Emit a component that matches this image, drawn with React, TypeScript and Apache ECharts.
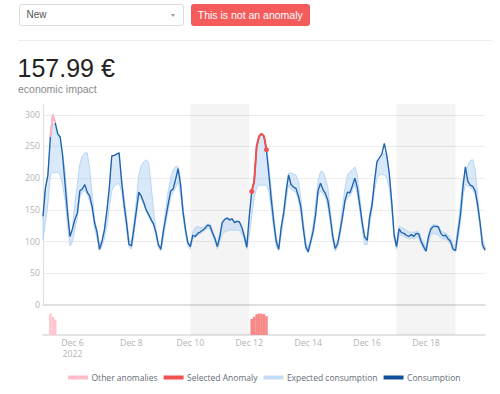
import React, { useEffect, useRef } from "react";
import * as echarts from "echarts";

// Sampling grid: every 2 hours from 5 Dec 2022 00:00 UTC
const START = Date.UTC(2022, 11, 5);
const END = Date.UTC(2022, 11, 20);
const STEP_MS = 2 * 3600 * 1000;

const consumption = [
  140, 185, 205, 265, 300, 287, 270, 265, 235, 190, 145, 108,
  120, 135, 145, 180, 183, 190, 178, 172, 155, 130, 115, 88,
  100, 118, 148, 185, 235, 236, 238, 240, 195, 160, 130, 96,
  93, 120, 148, 178, 172, 162, 150, 143, 135, 128, 115, 95,
  88, 116, 138, 160, 180, 183, 198, 215, 190, 148, 120, 98,
  92, 110, 108, 113, 115, 118, 121, 126, 125, 114, 105, 92,
  108, 130, 135, 137, 134, 136, 130, 132, 131, 122, 108, 91,
  140, 179, 195, 250, 266, 270, 266, 245, 205, 165, 130, 100,
  88, 122, 145, 178, 205, 190, 186, 184, 172, 155, 121, 92,
  84, 100, 116, 142, 180, 192, 182, 176, 165, 138, 108, 89,
  97, 117, 140, 165, 178, 177, 188, 200, 185, 158, 130, 107,
  102, 138, 158, 195, 226, 232, 238, 255, 236, 208, 163, 110,
  92, 120, 114, 113, 110, 108, 111, 108, 113, 112, 100, 92,
  85, 108, 120, 124, 124, 123, 113, 109, 110, 104, 100, 88,
  86, 114, 142, 185, 218, 195, 189, 187, 180, 158, 130, 95,
  87,
];

const expectedLow = [
  103, 130, 160, 205, 209, 209, 209, 205, 190, 165, 125, 93,
  100, 120, 140, 170, 178, 180, 175, 165, 150, 122, 105, 86,
  92, 105, 125, 155, 180, 188, 190, 192, 180, 150, 120, 92,
  88, 110, 140, 170, 168, 158, 148, 140, 132, 125, 108, 90,
  85, 105, 130, 150, 170, 178, 185, 195, 175, 140, 112, 93,
  88, 105, 106, 110, 112, 115, 118, 122, 120, 110, 100, 88,
  100, 112, 115, 117, 118, 118, 118, 118, 118, 112, 102, 88,
  110, 140, 170, 185, 189, 189, 189, 189, 180, 150, 120, 92,
  85, 110, 135, 165, 190, 183, 180, 178, 165, 145, 115, 88,
  82, 95, 110, 135, 172, 180, 175, 170, 155, 130, 100, 85,
  92, 110, 135, 160, 170, 172, 180, 190, 175, 148, 120, 95,
  95, 125, 150, 180, 200, 205, 206, 205, 200, 185, 150, 105,
  88, 110, 110, 108, 106, 104, 106, 104, 107, 106, 96, 88,
  84, 100, 110, 113, 112, 110, 106, 104, 104, 100, 96, 86,
  84, 105, 130, 170, 190, 188, 185, 182, 175, 150, 120, 90,
  85,
];

const expectedHigh = [
  140, 185, 205, 262, 285, 285, 270, 265, 240, 210, 160, 110,
  122, 160, 190, 222, 235, 240, 240, 215, 175, 135, 118, 95,
  102, 120, 150, 185, 235, 236, 238, 240, 200, 170, 140, 105,
  98, 130, 165, 205, 220, 226, 229, 225, 190, 150, 118, 98,
  92, 120, 150, 180, 200, 212, 218, 218, 200, 155, 122, 100,
  96, 115, 122, 124, 122, 122, 124, 128, 127, 118, 108, 95,
  112, 131, 136, 138, 136, 137, 132, 133, 132, 124, 112, 96,
  140, 179, 195, 248, 264, 268, 264, 245, 220, 180, 140, 108,
  92, 125, 150, 185, 208, 208, 207, 205, 195, 168, 132, 100,
  90, 105, 125, 160, 195, 210, 210, 200, 185, 150, 115, 95,
  100, 125, 155, 185, 205, 210, 213, 218, 205, 170, 135, 108,
  108, 142, 165, 195, 222, 228, 232, 240, 235, 210, 165, 115,
  98, 124, 122, 120, 118, 115, 115, 114, 116, 115, 106, 98,
  92, 112, 124, 127, 126, 125, 118, 114, 114, 110, 105, 94,
  95, 125, 160, 195, 212, 220, 228, 229, 215, 172, 132, 102,
  92,
];

// Anomalies: sample indices on the 2-hour grid, and their bar scores
const otherAnomalyIdx = [3, 4, 5];
const otherAnomalyScore = [1.0, 0.85, 0.72];
const selectedAnomalyIdx = [85, 86, 87, 88, 89, 90, 91];
const selectedAnomalyScore = [0.75, 0.85, 0.97, 1.0, 1.0, 0.97, 0.88];

const weekendBands = [
  ["2022-12-10", "2022-12-12"],
  ["2022-12-17", "2022-12-19"],
];
const tickDates = [
  "2022-12-06",
  "2022-12-08",
  "2022-12-10",
  "2022-12-12",
  "2022-12-14",
  "2022-12-16",
  "2022-12-18",
];
const yTicks = [0, 50, 100, 150, 200, 250, 300];

const legendItems = [
  { name: "Other anomalies", color: "#ffbcc8" },
  { name: "Selected Anomaly", color: "#f0524f" },
  { name: "Expected consumption", color: "#c4def7" },
  { name: "Consumption", color: "#0f4f9b" },
];

const COL_CONS = "#1f62ad";
const COL_EXP_LINE = "#b9d6f3";
const COL_EXP_FILL = "rgba(170,207,244,0.45)";
const COL_OTHER = "#ffb7c4";
const COL_SEL = "#f0524f";
const COL_SEL_BAR = "#f78888";
const COL_OTHER_BAR = "#ffc6d0";
const TICK_COLOR = "#b3b3b3";
const FONT = "'Open Sans', 'DejaVu Sans', sans-serif";

const tAt = (k: number) => START + k * STEP_MS;

function Chart() {
  const ref = useRef<HTMLDivElement>(null);
  useEffect(() => {
    if (!ref.current) return;
    const chart = echarts.init(ref.current, undefined, { renderer: "svg" });

    const bandData = expectedHigh.map((v, k) => [tAt(k), expectedLow[k], v]);
    const consData = consumption.map((v, k) => [tAt(k), v]);
    const otherLine = otherAnomalyIdx.map((k) => [tAt(k), consumption[k]]);
    const selLine = selectedAnomalyIdx.map((k) => [tAt(k), consumption[k]]);
    const otherBars = otherAnomalyIdx.map((k, i) => [tAt(k), otherAnomalyScore[i]]);
    const selBars = selectedAnomalyIdx.map((k, i) => [tAt(k), selectedAnomalyScore[i]]);
    const bandAreas = weekendBands.map(([a, b]) => [
      { xAxis: Date.parse(a) },
      { xAxis: Date.parse(b) },
    ]);
    const firstTick = Date.parse(tickDates[0]);

    chart.setOption({
      animation: false,
      textStyle: { fontFamily: FONT },
      grid: [
        { left: 43, right: 15, top: 104, height: 201 },
        { left: 43, right: 15, top: 305, height: 30 },
      ],
      legend: {
        left: 68,
        top: 373,
        itemWidth: 20,
        itemHeight: 4,
        itemGap: 6,
        padding: 0,
        selectedMode: false,
        textStyle: {
          fontFamily: FONT,
          fontSize: 8.5,
          color: "#666d77",
          padding: [0, 0, 0, -1.5],
        },
        data: legendItems.map((l) => ({
          name: l.name,
          icon: "rect",
          itemStyle: { color: l.color },
        })),
      },
      xAxis: [
        {
          gridIndex: 0,
          type: "value",
          min: START,
          max: END,
          axisLine: { show: true, onZero: false, lineStyle: { color: "#d9d9d9", width: 1.5 } },
          axisTick: { show: false },
          axisLabel: { show: false },
          splitLine: { show: false },
        },
        {
          gridIndex: 1,
          type: "value",
          min: START,
          max: END,
          axisLine: { show: true, onZero: false, lineStyle: { color: "#dcdcdc", width: 1.5 } },
          axisTick: { show: false },
          splitLine: { show: false },
          axisLabel: {
            customValues: tickDates.map((d) => Date.parse(d)),
            color: TICK_COLOR,
            fontSize: 8.7,
            fontFamily: FONT,
            margin: 3,
            lineHeight: 10.5,
            formatter: (v: number) => {
              const d = new Date(v);
              const s = "Dec " + d.getUTCDate();
              return v === firstTick ? s + "\n" + d.getUTCFullYear() : s;
            },
          },
        },
      ],
      yAxis: [
        {
          gridIndex: 0,
          type: "value",
          min: 0,
          max: 317,
          interval: 50,
          axisLine: { show: true, lineStyle: { color: "#dedede" } },
          axisTick: { show: false },
          axisLabel: {
            color: TICK_COLOR,
            fontSize: 8.7,
            fontFamily: FONT,
            margin: 3,
            showMaxLabel: false,
            formatter: (v: number) => (yTicks.indexOf(v) >= 0 ? String(v) : ""),
          },
          splitLine: { show: true, showMaxLine: false, lineStyle: { color: "#ececec" } },
        },
        {
          gridIndex: 1,
          type: "value",
          min: 0,
          max: 1.4,
          show: false,
          splitLine: { show: false },
        },
      ],
      series: [
        {
          name: "Expected consumption",
          type: "custom",
          xAxisIndex: 0,
          yAxisIndex: 0,
          data: bandData,
          encode: { x: 0, y: [1, 2] },
          z: 2,
          renderItem: (params: any, api: any) => {
            if (params.dataIndex !== 0) return null;
            const pts: number[][] = [];
            for (let i = 0; i < bandData.length; i++) {
              pts.push(api.coord([bandData[i][0], bandData[i][2]]));
            }
            for (let i = bandData.length - 1; i >= 0; i--) {
              pts.push(api.coord([bandData[i][0], bandData[i][1]]));
            }
            return {
              type: "polygon",
              shape: { points: pts },
              style: { fill: COL_EXP_FILL, stroke: COL_EXP_LINE, lineWidth: 1 },
            };
          },
          markArea: {
            silent: true,
            itemStyle: { color: "rgba(0,0,0,0.045)" },
            data: bandAreas,
          },
        },
        {
          name: "Consumption",
          type: "line",
          xAxisIndex: 0,
          yAxisIndex: 0,
          data: consData,
          showSymbol: false,
          symbol: "none",
          lineStyle: { color: COL_CONS, width: 1.35 },
          itemStyle: { color: COL_CONS },
          z: 3,
        },
        {
          name: "Other anomalies",
          type: "line",
          xAxisIndex: 0,
          yAxisIndex: 0,
          data: otherLine,
          showSymbol: false,
          symbol: "none",
          lineStyle: { color: COL_OTHER, width: 2 },
          itemStyle: { color: COL_OTHER },
          z: 4,
        },
        {
          name: "Selected Anomaly",
          type: "line",
          xAxisIndex: 0,
          yAxisIndex: 0,
          data: selLine,
          symbol: "circle",
          showSymbol: true,
          showAllSymbol: true,
          symbolSize: (_v: any, p: any) =>
            p.dataIndex === 0 || p.dataIndex === selLine.length - 1 ? 5 : 0,
          lineStyle: { color: COL_SEL, width: 2 },
          itemStyle: { color: COL_SEL },
          z: 5,
        },
        {
          name: "Other anomalies",
          type: "bar",
          xAxisIndex: 1,
          yAxisIndex: 1,
          data: otherBars,
          barWidth: 2.6,
          itemStyle: { color: COL_OTHER_BAR },
          markArea: {
            silent: true,
            itemStyle: { color: "rgba(0,0,0,0.045)" },
            data: bandAreas,
          },
        },
        {
          name: "Selected Anomaly",
          type: "bar",
          xAxisIndex: 1,
          yAxisIndex: 1,
          data: selBars,
          barWidth: 2.6,
          barGap: "-100%",
          itemStyle: { color: COL_SEL_BAR },
        },
      ],
    });
    return () => chart.dispose();
  }, []);
  return (
    <div
      ref={ref}
      style={{ position: "absolute", left: 0, top: 0, width: 500, height: 394 }}
    />
  );
}

export default function App() {
  const ui = "'Liberation Sans', Arial, sans-serif";
  return (
    <div
      style={{
        position: "fixed",
        left: 0,
        top: 0,
        width: 500,
        height: 394,
        overflow: "hidden",
        background: "#fff",
        fontFamily: ui,
      }}
    >
      <Chart />
      <div
        style={{
          position: "absolute",
          left: 18.5,
          top: 3.5,
          width: 165,
          height: 22.5,
          border: "1px solid #dcdcdc",
          borderRadius: 3,
          boxSizing: "border-box",
          fontSize: 10,
          lineHeight: "20.5px",
          color: "#555",
          paddingLeft: 7,
          background: "#fff",
        }}
      >
        New
        <div
          style={{
            position: "absolute",
            left: 151.5,
            top: 9.5,
            width: 0,
            height: 0,
            borderLeft: "2.5px solid transparent",
            borderRight: "2.5px solid transparent",
            borderTop: "3px solid #9a9a9a",
          }}
        />
      </div>
      <div
        style={{
          position: "absolute",
          left: 190.5,
          top: 3.5,
          width: 119.5,
          height: 22.5,
          borderRadius: 3,
          background: "#f45b5b",
          color: "#fff",
          fontSize: 10.5,
          lineHeight: "22.5px",
          textAlign: "center",
        }}
      >
        This is not an anomaly
      </div>
      <div
        style={{
          position: "absolute",
          left: 18,
          top: 40,
          width: 474,
          height: 1,
          background: "#ececec",
        }}
      />
      <div
        style={{
          position: "absolute",
          left: 17.5,
          top: 56,
          fontSize: 25,
          lineHeight: "25px",
          color: "#222",
          whiteSpace: "nowrap",
        }}
      >
        157.99 €
      </div>
      <div
        style={{
          position: "absolute",
          left: 18,
          top: 83,
          fontSize: 10.5,
          lineHeight: "12px",
          color: "#8a8a8a",
          whiteSpace: "nowrap",
        }}
      >
        economic impact
      </div>
    </div>
  );
}
